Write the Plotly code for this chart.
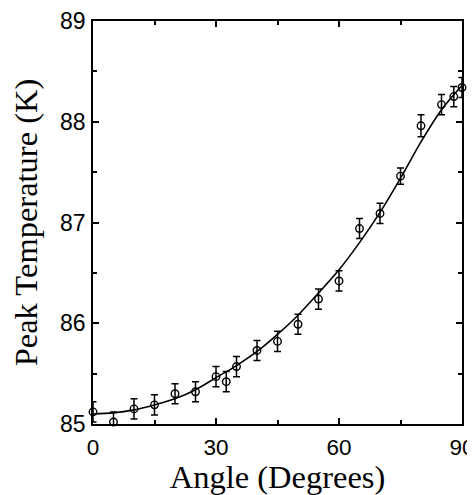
import plotly.graph_objects as go

# Measured data
angle = [0, 5, 10, 15, 20, 25, 30, 32.5, 35, 40, 45, 50, 55, 60, 65, 70, 75, 80, 85, 88, 90]
peak_temp = [85.12, 85.02, 85.15, 85.19, 85.30, 85.32, 85.47, 85.42, 85.57, 85.73, 85.82,
             85.99, 86.24, 86.42, 86.94, 87.09, 87.46, 87.96, 88.17, 88.25, 88.34]
temp_err = [0.10, 0.10, 0.10, 0.10, 0.10, 0.10, 0.10, 0.10, 0.10, 0.10, 0.10,
            0.10, 0.10, 0.10, 0.10, 0.10, 0.08, 0.11, 0.10, 0.10, 0.10]

# Fitted curve
fit_angle = [0, 5, 10, 15, 20, 25, 30, 35, 40, 45, 50, 55, 60, 65, 70, 75, 80, 85, 90]
fit_temp = [85.10, 85.11, 85.14, 85.19, 85.25, 85.34, 85.46, 85.58, 85.72, 85.89, 86.08,
            86.30, 86.53, 86.80, 87.10, 87.44, 87.80, 88.12, 88.36]

x_ticks = [0, 30, 60, 90]
y_ticks = [85, 86, 87, 88, 89]

fig = go.Figure()
fig.add_trace(go.Scatter(
    x=fit_angle, y=fit_temp, mode="lines",
    line=dict(color="black", width=1.6, shape="spline", smoothing=1.0),
    showlegend=False, hoverinfo="skip"))
fig.add_trace(go.Scatter(
    x=angle, y=peak_temp, mode="markers",
    marker=dict(symbol="circle-open", size=7.5, color="black", line=dict(width=1.4, color="black")),
    error_y=dict(type="data", array=temp_err, visible=True, color="black", thickness=1.5, width=3.5),
    cliponaxis=False, showlegend=False))

axis_common = dict(
    showline=True, linecolor="black", linewidth=1.5, mirror="ticks",
    ticks="inside", ticklen=6, tickwidth=1.5, tickcolor="black",
    showgrid=False, zeroline=False, automargin=False, ticklabeloverflow="allow",
)

fig.update_xaxes(
    range=[0, 90], tickvals=x_ticks, ticktext=[str(v) for v in x_ticks],
    ticklabelstandoff=2,
    tickfont=dict(family="Liberation Sans, Arial, sans-serif", size=22.5, color="black"),
    minor=dict(tickvals=[15, 45, 75], ticks="inside", ticklen=4, tickwidth=1.5, tickcolor="black"),
    title=dict(text="Angle (Degrees)", standoff=3,
               font=dict(family="Liberation Serif, Times New Roman, serif", size=32.5, color="black")),
    **axis_common)
fig.update_yaxes(
    range=[85, 89], tickvals=y_ticks, ticktext=[str(v) for v in y_ticks],
    ticklabelstandoff=1,
    tickfont=dict(family="Liberation Sans, Arial, sans-serif", size=23, color="black"),
    minor=dict(tickvals=[85.5, 86.5, 87.5, 88.5], ticks="inside", ticklen=4, tickwidth=1.5, tickcolor="black"),
    title=dict(text="Peak Temperature (K)", standoff=25,
               font=dict(family="Liberation Serif, Times New Roman, serif", size=32.5, color="black")),
    **axis_common)

fig.update_layout(
    width=467, height=487,
    margin=dict(l=85, r=13, t=13, b=71),
    plot_bgcolor="white", paper_bgcolor="white",
)

fig.write_html("out.html")
